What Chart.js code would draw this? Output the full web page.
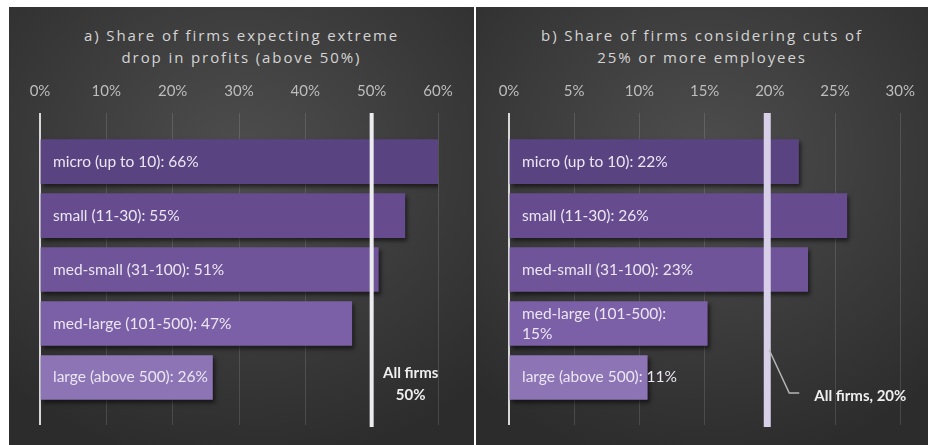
<!DOCTYPE html>
<html>
<head>
<meta charset="utf-8">
<script src="https://cdn.jsdelivr.net/npm/chart.js@4/dist/chart.umd.min.js"></script>
<style>
  html, body { margin: 0; padding: 0; background: #fff; }
  body { width: 928px; height: 445px; position: relative; overflow: hidden; }
  .panel {
    position: absolute; top: 7px; height: 438px;
    background: radial-gradient(ellipse 75% 70% at 50% 35%, #4e4e4e 0%, #3d3d3d 50%, #2c2c2c 100%);
  }
  #panelA { left: 9px; width: 465px; }
  #panelB { left: 476px; width: 452px; }
  .title {
    position: absolute; top: 17px; left: 0; right: 0; text-align: center;
    font: 15px 'Open Sans', sans-serif; letter-spacing: 1.9px; line-height: 22px; color: #d4d4d4;
  }
  canvas { position: absolute; left: 0; top: 0; }
</style>
</head>
<body>
<div class="panel" id="panelA">
  <div class="title">a) Share of firms expecting extreme<br>drop in profits (above 50%)</div>
  <canvas id="chartA" width="465" height="438"></canvas>
</div>
<div class="panel" id="panelB">
  <div class="title">b) Share of firms considering cuts of<br>25% or more employees</div>
  <canvas id="chartB" width="452" height="438"></canvas>
</div>
<script>
// firm size classes (same for both panels)
const sizeClasses = ['micro (up to 10)', 'small (11-30)', 'med-small (31-100)', 'med-large (101-500)', 'large (above 500)'];

// a) expecting profit drop above 50%
const profitDropShare = [66, 55, 51, 47, 26];
const profitTicks = [0, 10, 20, 30, 40, 50, 60];
const allFirmsProfit = 50;

// b) considering cuts of 25%+ employees
const staffCutShare = [22.2, 25.9, 22.9, 15.2, 10.6];
const staffTicks = [0, 5, 10, 15, 20, 25, 30];
const allFirmsStaff = 19.8;

const barColors = ['#5a4381', '#664c8f', '#6f5499', '#7c60a7', '#8c74b5'];

Chart.defaults.font.family = 'Lato';
Chart.defaults.font.size = 15;

function makeChart(id, values, ticks, allFirms, cfg) {
  const ctx = document.getElementById(id).getContext('2d');

  const overlay = {
    id: 'overlay',
    beforeDatasetsDraw(chart) {
      const c = chart.ctx;
      c.save();
      c.shadowColor = 'rgba(0,0,0,0.55)';
      c.shadowOffsetX = 2;
      c.shadowOffsetY = 3;
      c.shadowBlur = 4;
    },
    afterDatasetsDraw(chart) {
      const c = chart.ctx;
      c.restore();
      const area = chart.chartArea;
      const xs = chart.scales.x;
      const meta = chart.getDatasetMeta(0);

      // bar labels
      c.save();
      c.fillStyle = '#ece6f3';
      c.font = '15.5px Lato';
      c.textAlign = 'left';
      c.textBaseline = 'middle';
      meta.data.forEach((bar, i) => {
        const txt = sizeClasses[i] + ': ' + Math.round(values[i]) + '%';
        if (cfg.wrap.includes(i)) {
          c.fillText(sizeClasses[i] + ':', area.left + 13, bar.y - 10);
          c.fillText(Math.round(values[i]) + '%', area.left + 13, bar.y + 10);
        } else {
          c.fillText(txt, area.left + 13, bar.y);
        }
      });
      c.restore();

      // all firms line
      const lx = xs.getPixelForValue(allFirms);
      c.save();
      c.strokeStyle = cfg.lineColor;
      c.lineWidth = cfg.lineWidth;
      c.beginPath();
      c.moveTo(lx, area.top);
      c.lineTo(lx, area.bottom + 2);
      c.stroke();
      c.restore();

      cfg.note(c, lx, area);
    }
  };

  return new Chart(ctx, {
    type: 'bar',
    data: {
      datasets: [{
        data: values.map((v, i) => ({ x: v, y: i })),
        backgroundColor: barColors,
        borderWidth: 0,
        barThickness: 44,
        clip: 0
      }]
    },
    options: {
      indexAxis: 'y',
      responsive: false,
      animation: false,
      layout: { padding: cfg.padding },
      plugins: { legend: { display: false }, tooltip: { enabled: false } },
      scales: {
        x: {
          position: 'top',
          min: ticks[0],
          max: ticks[ticks.length - 1],
          afterBuildTicks: s => { s.ticks = ticks.map(v => ({ value: v })); },
          afterFit: s => { s.height = 106; },
          border: { display: false },
          grid: {
            drawTicks: false,
            color: c => c.tick && c.tick.value === 0 ? '#d8d8d8' : 'rgba(255,255,255,0.13)',
            lineWidth: c => c.tick && c.tick.value === 0 ? 2 : 1
          },
          ticks: {
            padding: 13,
            color: '#bdbdbd',
            font: { size: 15 },
            callback: v => v + '%'
          }
        },
        y: {
          type: 'linear',
          display: false,
          offset: false,
          reverse: true,
          min: -0.9,
          max: 4.88
        }
      }
    },
    plugins: [overlay]
  });
}

makeChart('chartA', profitDropShare, profitTicks, allFirmsProfit, {
  padding: { left: 31, right: 36, top: 0, bottom: 20 },
  wrap: [],
  lineColor: '#ecebf0',
  lineWidth: 4,
  note(c, lx, area) {
    c.save();
    c.fillStyle = '#eeeeee';
    c.font = 'bold 15px Lato';
    c.textAlign = 'center';
    c.textBaseline = 'middle';
    c.fillText('All firms', lx + 39, 366);
    c.fillText(allFirmsProfit + '%', lx + 39, 388);
    c.restore();
  }
});

makeChart('chartB', staffCutShare, staffTicks, allFirmsStaff, {
  padding: { left: 33, right: 21, top: 0, bottom: 20 },
  wrap: [3],
  lineColor: '#d8d0e8',
  lineWidth: 7,
  note(c, lx, area) {
    c.save();
    c.strokeStyle = '#b5b5b5';
    c.lineWidth = 1.5;
    c.beginPath();
    c.moveTo(lx + 2, 343);
    c.lineTo(lx + 22, 386);
    c.lineTo(lx + 32, 386);
    c.stroke();
    c.fillStyle = '#eeeeee';
    c.font = 'bold 15px Lato';
    c.textAlign = 'left';
    c.textBaseline = 'middle';
    c.fillText('All firms, ' + Math.round(allFirmsStaff) + '%', lx + 47, 389);
    c.restore();
  }
});
</script>
</body>
</html>
